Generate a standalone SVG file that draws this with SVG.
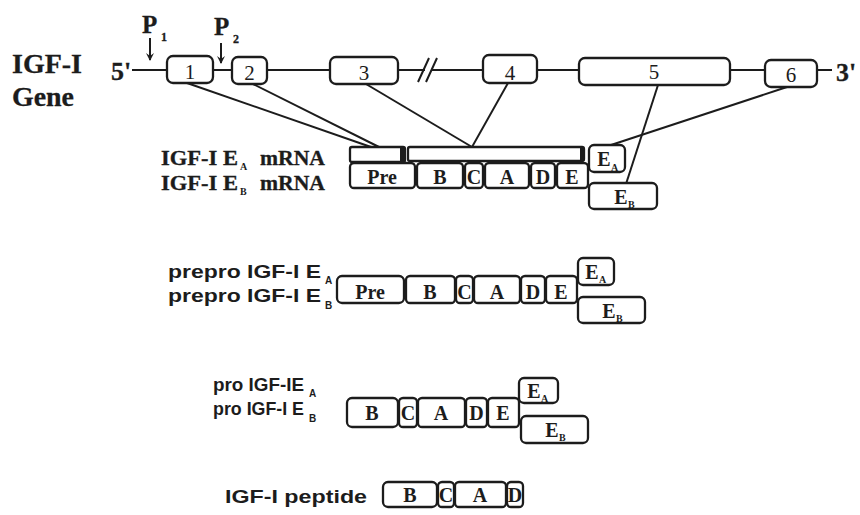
<svg xmlns="http://www.w3.org/2000/svg" width="860" height="515" viewBox="0 0 860 515">
<defs>
<style>
.bg{fill:#fff}
.bx{fill:#fff;stroke:#1c1c1c;stroke-width:2.3}
.ln{stroke:#1c1c1c;stroke-width:2;fill:none}
.sf{font-family:"Liberation Serif",serif;font-weight:bold;fill:#1c1c1c;stroke:#1c1c1c;stroke-width:0.3}
.ss{font-family:"Liberation Sans",sans-serif;font-weight:bold;fill:#1c1c1c}
.num{font-family:"Liberation Serif",serif;font-size:21px;fill:#1c1c1c;text-anchor:middle}
.bt{font-family:"Liberation Serif",serif;font-weight:bold;font-size:20px;fill:#1c1c1c;text-anchor:middle}
.sub{font-family:"Liberation Serif",serif;font-weight:bold;font-size:10px;fill:#1c1c1c}
</style>
<marker id="arr" markerWidth="8" markerHeight="8" refX="7" refY="4" orient="auto" markerUnits="userSpaceOnUse" viewBox="0 0 8 8">
<path d="M0,0 L8,4 L0,8 L3,4 Z" fill="#1c1c1c"/>
</marker>
</defs>
<rect class="bg" width="860" height="515"/>

<g id="gene-label">
<text class="sf" x="12" y="73" font-size="28" textLength="70" lengthAdjust="spacingAndGlyphs">IGF-I</text>
<text class="sf" x="12" y="106" font-size="27" textLength="62" lengthAdjust="spacingAndGlyphs">Gene</text>
<text class="sf" x="111" y="80" font-size="26">5'</text>
<text class="sf" x="836" y="81" font-size="26">3'</text>
</g>

<g id="promoters">
<text class="sf" x="142" y="33" font-size="25">P</text>
<text class="sf" x="161" y="41" font-size="12">1</text>
<line class="ln" x1="150" y1="38" x2="150" y2="60" marker-end="url(#arr)"/>
<text class="sf" x="214" y="35" font-size="25">P</text>
<text class="sf" x="233" y="43" font-size="12">2</text>
<line class="ln" x1="221" y1="43" x2="221" y2="63" marker-end="url(#arr)"/>
</g>

<g id="gene-line">
<path class="ln" d="M132,70 H167 M213,70 H232 M267,70 H330 M398,70 H425 M431,70 H483 M537,70 H579 M730,70 H765 M817,70 H832"/>
<path class="ln" d="M418,82 L429,58 M426,82 L437,58"/>
</g>

<g id="exon1"><rect class="bx" x="167" y="56" width="46" height="27" rx="6"/><text class="num" x="190" y="79">1</text></g>
<g id="exon2"><rect class="bx" x="232" y="57" width="35" height="27" rx="6"/><text class="num" x="249.5" y="80">2</text></g>
<g id="exon3"><rect class="bx" x="330" y="57" width="68" height="27" rx="6"/><text class="num" x="364" y="80">3</text></g>
<g id="exon4"><rect class="bx" x="483" y="55" width="54" height="28" rx="6"/><text class="num" x="510" y="80">4</text></g>
<g id="exon5"><rect class="bx" x="579" y="58" width="151" height="27" rx="6"/><text class="num" x="654" y="79">5</text></g>
<g id="exon6"><rect class="bx" x="765" y="60" width="52" height="27" rx="6"/><text class="num" x="791" y="82">6</text></g>

<g id="connectors">
<line class="ln" x1="187" y1="83" x2="371" y2="147"/>
<line class="ln" x1="253" y1="84" x2="379" y2="147"/>
<line class="ln" x1="366" y1="84" x2="472" y2="147"/>
<line class="ln" x1="508" y1="83" x2="472" y2="147"/>
<line class="ln" x1="658" y1="85" x2="626" y2="184"/>
<line class="ln" x1="787" y1="87" x2="608" y2="146"/>
</g>

<g id="mrna-labels">
<text class="sf" x="161" y="165" font-size="21" textLength="77" lengthAdjust="spacingAndGlyphs">IGF-I E</text>
<text class="sub" x="240" y="170">A</text>
<text class="sf" x="260" y="165" font-size="21" textLength="65" lengthAdjust="spacingAndGlyphs">mRNA</text>
<text class="sf" x="161" y="190" font-size="21" textLength="77" lengthAdjust="spacingAndGlyphs">IGF-I E</text>
<text class="sub" x="240" y="195">B</text>
<text class="sf" x="260" y="190" font-size="21" textLength="65" lengthAdjust="spacingAndGlyphs">mRNA</text>
</g>

<g id="mrna">
<rect class="bx" x="350" y="147" width="55" height="15" rx="2"/>
<rect x="400" y="147" width="5" height="15" fill="#1c1c1c"/>
<rect class="bx" x="408" y="147" width="176" height="14" rx="2"/>
<rect x="580" y="147" width="4" height="14" fill="#1c1c1c"/>
<rect class="bx" x="350" y="163" width="65" height="25" rx="4"/><text class="bt" x="382" y="184">Pre</text>
<rect class="bx" x="417" y="163" width="46" height="25" rx="4"/><text class="bt" x="440" y="184">B</text>
<rect class="bx" x="465" y="163" width="18" height="25" rx="4"/><text class="bt" x="474" y="184">C</text>
<rect class="bx" x="485" y="163" width="44" height="25" rx="4"/><text class="bt" x="507" y="184">A</text>
<rect class="bx" x="531" y="163" width="24" height="25" rx="4"/><text class="bt" x="543" y="184">D</text>
<rect class="bx" x="557" y="163" width="31" height="25" rx="4"/><text class="bt" x="572" y="184">E</text>
<rect class="bx" x="589" y="145" width="36" height="27" rx="5"/><text class="bt" x="604" y="166">E</text><text class="sub" x="611" y="171">A</text>
<rect class="bx" x="589" y="183" width="68" height="26" rx="5"/><text class="bt" x="621" y="204">E</text><text class="sub" x="628" y="208">B</text>
</g>

<g id="prepro-labels">
<text class="ss" x="168" y="278" font-size="19" textLength="153" lengthAdjust="spacingAndGlyphs">prepro IGF-I E</text>
<text class="ss" x="325" y="284" font-size="10">A</text>
<text class="ss" x="168" y="302" font-size="19" textLength="153" lengthAdjust="spacingAndGlyphs">prepro IGF-I E</text>
<text class="ss" x="325" y="309" font-size="10">B</text>
</g>

<g id="prepro">
<rect class="bx" x="337" y="276" width="67" height="27" rx="5"/><text class="bt" x="370" y="299">Pre</text>
<rect class="bx" x="406" y="276" width="49" height="27" rx="4"/><text class="bt" x="430" y="299">B</text>
<rect class="bx" x="456" y="276" width="17" height="27" rx="4"/><text class="bt" x="464.5" y="299">C</text>
<rect class="bx" x="474" y="276" width="46" height="27" rx="4"/><text class="bt" x="497" y="299">A</text>
<rect class="bx" x="521" y="276" width="24" height="27" rx="4"/><text class="bt" x="533" y="299">D</text>
<rect class="bx" x="546" y="276" width="31" height="27" rx="4"/><text class="bt" x="561" y="299">E</text>
<rect class="bx" x="578" y="258" width="36" height="27" rx="5"/><text class="bt" x="592" y="279">E</text><text class="sub" x="599" y="283">A</text>
<rect class="bx" x="578" y="297" width="67" height="26" rx="5"/><text class="bt" x="609" y="318">E</text><text class="sub" x="616" y="322">B</text>
</g>

<g id="pro-labels">
<text class="ss" x="213" y="391" font-size="19" textLength="91" lengthAdjust="spacingAndGlyphs">pro IGF-IE</text>
<text class="ss" x="309" y="397" font-size="10">A</text>
<text class="ss" x="213" y="415" font-size="19" textLength="91" lengthAdjust="spacingAndGlyphs">pro IGF-I E</text>
<text class="ss" x="309" y="422" font-size="10">B</text>
</g>

<g id="pro">
<rect class="bx" x="347" y="398" width="51" height="29" rx="5"/><text class="bt" x="372" y="420">B</text>
<rect class="bx" x="399" y="398" width="18" height="29" rx="4"/><text class="bt" x="408" y="420">C</text>
<rect class="bx" x="418" y="398" width="47" height="29" rx="4"/><text class="bt" x="441" y="420">A</text>
<rect class="bx" x="466" y="398" width="21" height="29" rx="4"/><text class="bt" x="476.5" y="420">D</text>
<rect class="bx" x="488" y="398" width="31" height="29" rx="4"/><text class="bt" x="503" y="420">E</text>
<rect class="bx" x="519" y="378" width="39" height="25" rx="5"/><text class="bt" x="534" y="398">E</text><text class="sub" x="541" y="402">A</text>
<rect class="bx" x="521" y="416" width="67" height="27" rx="5"/><text class="bt" x="552" y="437">E</text><text class="sub" x="559" y="441">B</text>
</g>

<g id="peptide-label">
<text class="ss" x="225" y="503" font-size="19" textLength="142" lengthAdjust="spacingAndGlyphs">IGF-I peptide</text>
</g>

<g id="peptide">
<rect class="bx" x="383" y="482" width="54" height="25" rx="5"/><text class="bt" x="410" y="502">B</text>
<rect class="bx" x="438" y="482" width="16" height="25" rx="4"/><text class="bt" x="446" y="502">C</text>
<rect class="bx" x="455" y="482" width="51" height="25" rx="4"/><text class="bt" x="480" y="502">A</text>
<rect class="bx" x="507" y="482" width="16" height="25" rx="4"/><text class="bt" x="515" y="502">D</text>
</g>
</svg>
